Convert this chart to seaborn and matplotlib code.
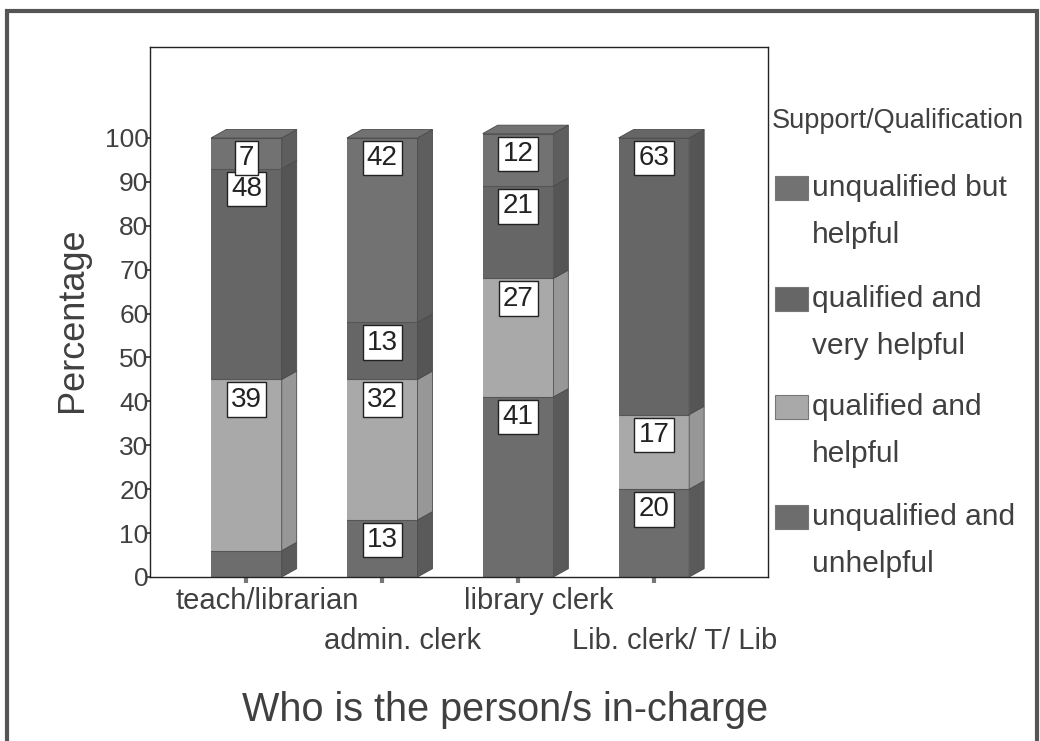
import numpy as np
import pandas as pd
import matplotlib
matplotlib.use("Agg")
import matplotlib.pyplot as plt
from matplotlib.patches import Rectangle, Polygon
import seaborn as sns

# data
people = ["teach/librarian", "admin. clerk", "library clerk", "Lib. clerk/ T/ Lib"]
unq_unhelpful = [6, 13, 41, 20]
q_helpful = [39, 32, 27, 17]
q_very_helpful = [48, 13, 21, 63]
unq_helpful = [7, 42, 12, 0]

series = ["unqualified and\nunhelpful", "qualified and\nhelpful",
          "qualified and\nvery helpful", "unqualified but\nhelpful"]
colors = ["#6d6d6d", "#a9a9a9", "#666666", "#727272"]
side_colors = ["#5a5a5a", "#979797", "#555555", "#5e5e5e"]

vals = np.array([unq_unhelpful, q_helpful, q_very_helpful, unq_helpful], dtype=float)
tops = vals.cumsum(axis=0)
bottoms = tops - vals

sns.set_theme(style="white")
plt.rcParams["font.family"] = ["Liberation Sans", "DejaVu Sans"]
txt = "#404040"

fig = plt.figure(figsize=(10.4, 7.41), dpi=100)
W, H = 1040, 741
ax = fig.add_axes([150 / W, 1 - 577 / H, (768 - 150) / W, (577 - 47) / H])

bw = 0.52
dx, dy = 0.11, 1.9

# stacked bars: draw cumulative totals from the top series down
for i in range(len(series) - 1, -1, -1):
    df = pd.DataFrame({"person": people, "total": tops[i]})
    sns.barplot(data=df, x="person", y="total", color=colors[i], width=bw,
                saturation=1, linewidth=0, ax=ax, order=people)

# pseudo 3D side and top faces
for j in range(len(people)):
    xr = j + bw / 2
    xl = j - bw / 2
    for i in range(len(series)):
        if vals[i, j] <= 0:
            continue
        b, t = bottoms[i, j], tops[i, j]
        ax.add_patch(Polygon([(xr, b), (xr + dx, b + dy), (xr + dx, t + dy), (xr, t)],
                             closed=True, facecolor=side_colors[i], edgecolor="#4a4a4a",
                             linewidth=0.6, zorder=3))
        ax.plot([xl, xr], [t, t], color="#555555", lw=0.8, zorder=3)
    k = max(i for i in range(len(series)) if vals[i, j] > 0)
    t = tops[k, j]
    ax.add_patch(Polygon([(xl, t), (xl + dx, t + dy), (xr + dx, t + dy), (xr, t)],
                         closed=True, facecolor=colors[k], edgecolor="#4a4a4a",
                         linewidth=0.6, zorder=3))

# value labels
for j in range(len(people)):
    for i in range(len(series)):
        v = vals[i, j]
        if v < 7 and not (i == 3 and v > 0):
            continue
        ax.text(j, tops[i, j] - 4.6, f"{int(v)}", ha="center", va="center",
                fontsize=20, color="#222222", zorder=5,
                bbox=dict(boxstyle="square,pad=0.15", fc="white", ec="#222222", lw=1))

ax.set_xlim(-0.71, 3.84)
ax.set_ylim(0, 120.7)
ax.set_yticks(range(0, 101, 10))
ax.set_yticklabels([str(v) for v in range(0, 101, 10)], fontsize=19, color=txt)
ax.tick_params(axis="y", length=3, pad=-2, left=True, color="#333333")
ax.tick_params(axis="x", length=4, width=3, color="#777777", bottom=True)
ax.set_xticks(range(len(people)))
ax.set_xticklabels([])
for j, p in enumerate(people):
    ax.text(j + 0.15, -5.5 if j % 2 == 0 else -14.5, p, ha="center", va="center",
            fontsize=21, color=txt, transform=ax.transData, clip_on=False)
ax.set_xlabel("")
ax.set_ylabel("Percentage", fontsize=26, color=txt)
ax.yaxis.set_label_coords(-0.097, 0.485)
for s in ax.spines.values():
    s.set_visible(True)
    s.set_color("#222222")
    s.set_linewidth(1)

fig.text(505 / W, 1 - 710 / H, "Who is the person/s in-charge", ha="center",
         va="center", fontsize=28.5, color=txt)

# legend drawn by hand so the swatch lines up with the first text line
fig.text(772 / W, 1 - 121 / H, "Support/Qualification", ha="left", va="center",
         fontsize=19.5, color=txt)
rows = [188, 299, 407, 517]
for r, i in zip(rows, range(len(series) - 1, -1, -1)):
    fig.patches.append(Rectangle((775 / W, 1 - (r + 12) / H), 33 / W, 24 / H,
                                 transform=fig.transFigure, facecolor=colors[i],
                                 edgecolor="#777777", lw=0.8))
    first, second = series[i].split("\n")
    fig.text(812 / W, 1 - r / H, first, ha="left", va="center", fontsize=21.5, color=txt)
    fig.text(812 / W, 1 - (r + 47) / H, second, ha="left", va="center", fontsize=21.5, color=txt)

# outer chart frame
fig.patches.append(Rectangle((7 / W, -0.05), 1030 / W, 1 - 11 / H + 0.05,
                             transform=fig.transFigure, fill=False,
                             edgecolor="#555555", lw=3))

fig.savefig("out.png", dpi=100)
